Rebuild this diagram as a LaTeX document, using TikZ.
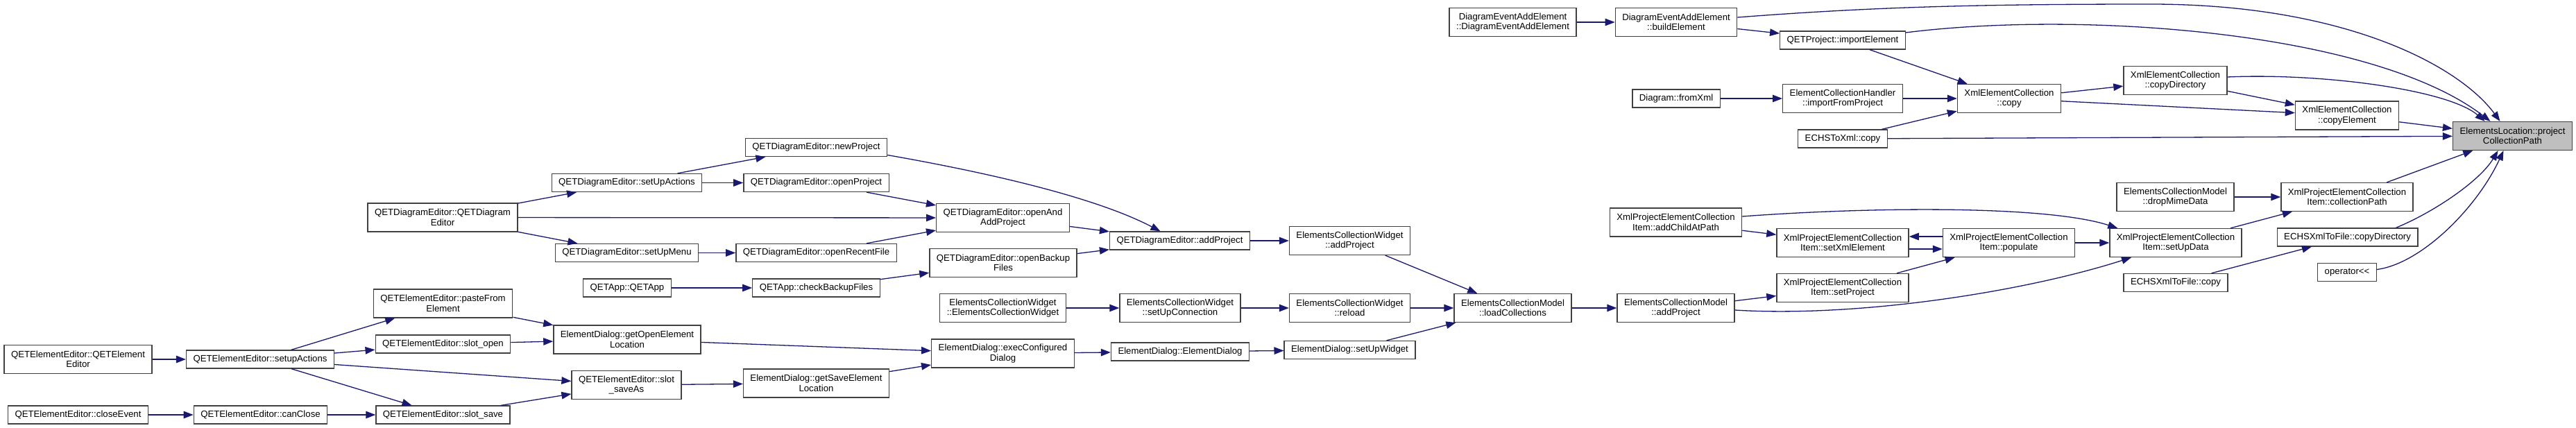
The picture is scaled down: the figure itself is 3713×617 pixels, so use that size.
\documentclass[tikz,border=0pt]{standalone}
\usepackage{fontspec}
\usepackage{xcolor}
\usepackage{tikz}
\usetikzlibrary{arrows.meta,calc}
\setmainfont{Liberation Sans}
\definecolor{edgeblue}{HTML}{191970}

\begin{document}
\begin{tikzpicture}[
    x=1bp, y=-1bp,
    box/.style={rectangle, draw=black!75, fill=white, line width=1.3bp, minimum height=26bp, inner xsep=10bp, inner ysep=2bp, align=center, font=\fontsize{13.2bp}{14.5bp}\selectfont},
    tall/.style={box, minimum height=41bp},
    arrow/.style={-{Triangle[length=14bp,width=10.5bp]}, draw=edgeblue, line width=1.3bp}
]
\path[use as bounding box, fill=white] (0,0) rectangle (3713,617);

\node[tall, fill=black!25] (target) at (3621.5,196) {ElementsLocation::project\\CollectionPath};

\node[tall] (eeinit) at (112.5,518) {QETElementEditor::QETElement\\Editor};
\node[box] (closeevent) at (112.5,598) {QETElementEditor::closeEvent};
\node[box] (eesetup) at (375,518) {QETElementEditor::setupActions};
\node[box] (canclose) at (375.5,598) {QETElementEditor::canClose};
\node[tall] (deinit) at (638,313.5) {QETDiagramEditor::QETDiagram\\Editor};
\node[tall] (pastefrom) at (638.5,437.5) {QETElementEditor::pasteFrom\\Element};
\node[box] (slotopen) at (638.5,496) {QETElementEditor::slot\_open};
\node[box] (slotsave) at (638.5,598) {QETElementEditor::slot\_save};
\node[box] (desetup) at (903.5,263.5) {QETDiagramEditor::setUpActions};
\node[box] (demenu) at (903.5,364.5) {QETDiagramEditor::setUpMenu};
\node[box] (appinit) at (904,415) {QETApp::QETApp};
\node[tall] (getopen) at (904,489.5) {ElementDialog::getOpenElement\\Location};
\node[tall] (slotsaveas) at (903,555) {QETElementEditor::slot\\\_saveAs};
\node[box] (newproject) at (1176.5,212.5) {QETDiagramEditor::newProject};
\node[box] (openproject) at (1176.5,263.5) {QETDiagramEditor::openProject};
\node[box] (openrecent) at (1176.5,364.5) {QETDiagramEditor::openRecentFile};
\node[box] (checkbackup) at (1176.5,415) {QETApp::checkBackupFiles};
\node[tall] (getsave) at (1176.5,552.5) {ElementDialog::getSaveElement\\Location};
\node[tall] (openandadd) at (1445.5,314) {QETDiagramEditor::openAnd\\AddProject};
\node[tall] (openbackup) at (1446,379) {QETDiagramEditor::openBackup\\Files};
\node[tall] (ecwinit) at (1445.5,444) {ElementsCollectionWidget\\::ElementsCollectionWidget};
\node[tall] (execdialog) at (1445.5,509.5) {ElementDialog::execConfigured\\Dialog};
\node[box] (deaddproject) at (1700.5,347) {QETDiagramEditor::addProject};
\node[tall] (setupconn) at (1701,444) {ElementsCollectionWidget\\::setUpConnection};
\node[box] (dialoginit) at (1701,507) {ElementDialog::ElementDialog};
\node[tall] (ecwaddproject) at (1945.5,347) {ElementsCollectionWidget\\::addProject};
\node[tall] (reload) at (1945.5,444) {ElementsCollectionWidget\\::reload};
\node[box] (setupwidget) at (1945.5,504.5) {ElementDialog::setUpWidget};
\node[tall] (eventinit) at (2180.5,32) {DiagramEventAddElement\\::DiagramEventAddElement};
\node[tall] (loadcoll) at (2180.5,444) {ElementsCollectionModel\\::loadCollections};
\node[tall] (buildelement) at (2416,32) {DiagramEventAddElement\\::buildElement};
\node[box] (fromxml) at (2416,142) {Diagram::fromXml};
\node[tall] (addchild) at (2415.5,320.5) {XmlProjectElementCollection\\Item::addChildAtPath};
\node[tall] (ecmaddproject) at (2415.5,444) {ElementsCollectionModel\\::addProject};
\node[box] (importelement) at (2656,58) {QETProject::importElement};
\node[tall] (importfrom) at (2656,142) {ElementCollectionHandler\\::importFromProject};
\node[box] (toxmlcopy) at (2656,200) {ECHSToXml::copy};
\node[tall] (setxml) at (2656,350) {XmlProjectElementCollection\\Item::setXmlElement};
\node[tall] (setproject) at (2656,415) {XmlProjectElementCollection\\Item::setProject};
\node[tall] (xeccopy) at (2896,142) {XmlElementCollection\\::copy};
\node[tall] (populate) at (2895.5,350) {XmlProjectElementCollection\\Item::populate};
\node[tall] (copydir) at (3135.5,116) {XmlElementCollection\\::copyDirectory};
\node[tall] (dropmime) at (3135.5,284) {ElementsCollectionModel\\::dropMimeData};
\node[tall] (setupdata) at (3136,350) {XmlProjectElementCollection\\Item::setUpData};
\node[box] (tofilecopy) at (3136,407.5) {ECHSXmlToFile::copy};
\node[tall] (copyelement) at (3383,166.5) {XmlElementCollection\\::copyElement};
\node[tall] (collpath) at (3383,284) {XmlProjectElementCollection\\Item::collectionPath};
\node[box] (tofiledir) at (3383.5,342) {ECHSXmlToFile::copyDirectory};
\node[box] (streamop) at (3383,392.5) {operator<\kern0pt<};

% element editor side
\draw[arrow] (eeinit) -- (eesetup);
\draw[arrow] (closeevent) -- (canclose);
\draw[arrow] (canclose) -- (slotsave);
\draw[arrow] (eesetup) -- (pastefrom);
\draw[arrow] (eesetup) -- (slotopen);
\draw[arrow] (eesetup) -- (slotsaveas);
\draw[arrow] (eesetup) -- (slotsave);
\draw[arrow] (pastefrom) -- (getopen);
\draw[arrow] (slotopen) -- (getopen);
\draw[arrow] (slotsave) -- (slotsaveas);
\draw[arrow] (slotsaveas) -- (getsave);
\draw[arrow] (getopen) -- (execdialog);
\draw[arrow] (getsave) -- (execdialog);
\draw[arrow] (execdialog) -- (dialoginit);
\draw[arrow] (dialoginit) -- (setupwidget);
\draw[arrow] (setupwidget) -- (loadcoll);

% diagram editor side
\draw[arrow] (deinit) -- (desetup);
\draw[arrow] (deinit) -- (demenu);
\draw[arrow] (deinit) -- (openandadd);
\draw[arrow] (desetup) -- (newproject);
\draw[arrow] (desetup) -- (openproject);
\draw[arrow] (demenu) -- (openrecent);
\draw[arrow] (openproject) -- (openandadd);
\draw[arrow] (openrecent) -- (openandadd);
\draw[arrow] ($(newproject.east)+(0,11)$) .. controls (1430,250) and (1580,285) .. ($(deaddproject.north)+(-28,0)$);
\draw[arrow] (openandadd) -- (deaddproject);
\draw[arrow] (openbackup) -- (deaddproject);
\draw[arrow] (appinit) -- (checkbackup);
\draw[arrow] (checkbackup) -- (openbackup);
\draw[arrow] (deaddproject) -- (ecwaddproject);
\draw[arrow] (ecwinit) -- (setupconn);
\draw[arrow] (setupconn) -- (reload);
\draw[arrow] (ecwaddproject) -- (loadcoll);
\draw[arrow] (reload) -- (loadcoll);
\draw[arrow] (loadcoll) -- (ecmaddproject);

% project collection items
\draw[arrow] (ecmaddproject) -- (setproject);
\draw[arrow] ($(ecmaddproject.east)+(0,3)$) .. controls (2680,458) and (2920,420) .. ($(setupdata.south)+(-64,0)$);
\draw[arrow] (addchild) -- (setxml);
\draw[arrow] ($(addchild.east)+(0,-8.5)$) .. controls (2700,298) and (2950,296) .. ($(setupdata.north west)+(12,0)$);
\draw[arrow] ($(populate.west)+(0,-9)$) -- ($(setxml.east)+(0,-9)$);
\draw[arrow] ($(setxml.east)+(0,9)$) -- ($(populate.west)+(0,9)$);
\draw[arrow] (setproject) -- (populate);
\draw[arrow] (populate) -- (setupdata);
\draw[arrow] (setupdata) -- (collpath);
\draw[arrow] (dropmime) -- (collpath);
\draw[arrow] (tofilecopy) -- (tofiledir);

% xml collection copies
\draw[arrow] (eventinit) -- (buildelement);
\draw[arrow] (buildelement) -- (importelement);
\draw[arrow] (importelement) -- (xeccopy);
\draw[arrow] (fromxml) -- (importfrom);
\draw[arrow] (importfrom) -- (xeccopy);
\draw[arrow] (toxmlcopy) -- (xeccopy);
\draw[arrow] (xeccopy) -- (copydir);
\draw[arrow] (xeccopy) -- (copyelement);
\draw[arrow] (copydir) -- (copyelement);

% calls into the target
\draw[arrow] ($(buildelement.east)+(0,-7)$) .. controls (2700,10) and (2850,6) .. (3100,6) .. controls (3380,6) and (3545,95) .. ($(target.north)+(-18,0)$);
\draw[arrow] ($(importelement.east)+(0,-11)$) .. controls (3000,15) and (3420,45) .. ($(target.north)+(-32,0)$);
\draw[arrow] ($(copydir.east)+(0,-5)$) .. controls (3350,105) and (3530,130) .. ($(target.north)+(-40,0)$);
\draw[arrow] (copyelement) -- (target);
\draw[arrow] (toxmlcopy) -- (target);
\draw[arrow] (collpath) -- (target);
\draw[arrow] ($(tofiledir.north)+(70,0)$) .. controls (3510,305) and (3575,260) .. ($(target.south)+(-21,0)$);
\draw[arrow] ($(streamop.east)+(0,-4)$) .. controls (3490,380) and (3570,300) .. ($(target.south)+(-13,0)$);
\end{tikzpicture}
\end{document}
